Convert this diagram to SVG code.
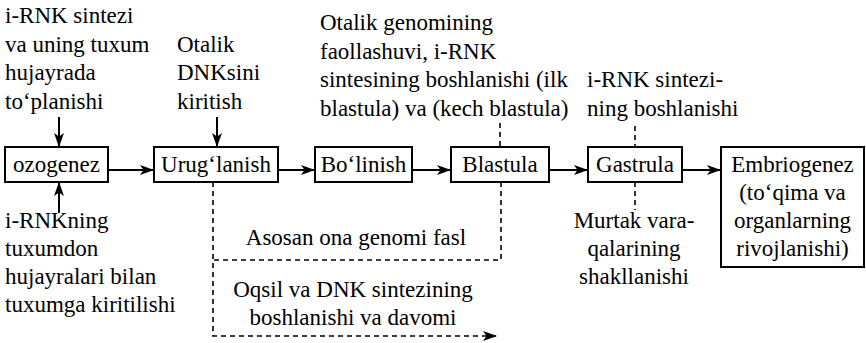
<svg xmlns="http://www.w3.org/2000/svg" width="866" height="343" viewBox="0 0 866 343">
<style>
.t{font-size:23px;fill:#000}
.c{text-anchor:middle}
.box{fill:#fff;stroke:#000;stroke-width:2}
.ln{fill:none;stroke:#000;stroke-width:2}
.ds{fill:none;stroke:#000;stroke-width:1.6;stroke-dasharray:5 4}
</style>
<defs>
<marker id="ah" viewBox="0 0 14 10" refX="14" refY="5" markerWidth="14" markerHeight="10" markerUnits="userSpaceOnUse" orient="auto">
<path d="M0,0 L14,5 L0,10 L3.5,5 z" fill="#000"/>
</marker>
</defs>
<rect width="866" height="343" fill="#fff"/>
<g id="connectors">
<line class="ln" x1="108" y1="170" x2="154" y2="170" marker-end="url(#ah)"/>
<line class="ln" x1="278" y1="170" x2="315" y2="170" marker-end="url(#ah)"/>
<line class="ln" x1="412" y1="170" x2="451" y2="170" marker-end="url(#ah)"/>
<line class="ln" x1="549" y1="170" x2="588" y2="170" marker-end="url(#ah)"/>
<line class="ln" x1="682" y1="170" x2="721" y2="170" marker-end="url(#ah)"/>
<line class="ln" x1="59" y1="117" x2="59" y2="147" marker-end="url(#ah)"/>
<line class="ln" x1="217" y1="117" x2="217" y2="147" marker-end="url(#ah)"/>
<line class="ln" x1="59" y1="213" x2="59" y2="182" marker-end="url(#ah)"/>
<line class="ds" x1="500" y1="123" x2="500" y2="147"/>
<line class="ds" x1="635" y1="126" x2="635" y2="147"/>
<line class="ds" x1="635" y1="182" x2="635" y2="210"/>
<polyline class="ds" points="501,182 501,260 213,260"/>
<polyline class="ds" points="213,182 213,336 497,336" marker-end="url(#ah)"/>
</g>
<g class="t" font-family="Liberation Serif, serif">
<g id="ozogenez"><rect class="box" x="5" y="147" width="103" height="35"/><text class="c" x="56.5" y="172">ozogenez</text></g>
<g id="uruglanish"><rect class="box" x="154" y="147" width="124" height="35"/><text class="c" x="216" y="172">Urug‘lanish</text></g>
<g id="bolinish"><rect class="box" x="315" y="147" width="97" height="35"/><text class="c" x="363.5" y="172">Bo‘linish</text></g>
<g id="blastula"><rect class="box" x="451" y="147" width="98" height="35"/><text class="c" x="500" y="172">Blastula</text></g>
<g id="gastrula"><rect class="box" x="588" y="147" width="94" height="35"/><text class="c" x="635" y="172">Gastrula</text></g>
<g id="embriogenez"><rect class="box" x="721" y="147" width="143" height="120"/>
<text class="c" x="792.5" y="172">Embriogenez</text>
<text class="c" x="792.5" y="200">(to‘qima va</text>
<text class="c" x="792.5" y="228">organlarning</text>
<text class="c" x="792.5" y="256">rivojlanishi)</text></g>
<g id="label-irnk-sintezi">
<text x="5" y="23">i-RNK sintezi</text>
<text x="5" y="51.5">va uning tuxum</text>
<text x="5" y="80">hujayrada</text>
<text x="5" y="108.5">to‘planishi</text></g>
<g id="label-otalik-dnk">
<text x="177" y="51.5">Otalik</text>
<text x="177" y="80">DNKsini</text>
<text x="177" y="108.5">kiritish</text></g>
<g id="label-otalik-genom">
<text x="320" y="30">Otalik genomining</text>
<text x="320" y="58.5">faollashuvi, i-RNK</text>
<text x="320" y="87">sintesining boshlanishi (ilk</text>
<text x="320" y="115.5">blastula) va (kech blastula)</text></g>
<g id="label-irnk-sintezi2">
<text x="587" y="87">i-RNK sintezi-</text>
<text x="587" y="115.5">ning boshlanishi</text></g>
<g id="label-irnkning">
<text x="5" y="228">i-RNKning</text>
<text x="5" y="256">tuxumdon</text>
<text x="5" y="284">hujayralari bilan</text>
<text x="5" y="312">tuxumga kiritilishi</text></g>
<g id="label-murtak">
<text class="c" x="634" y="228">Murtak vara-</text>
<text class="c" x="634" y="256">qalarining</text>
<text class="c" x="634" y="284">shakllanishi</text></g>
<g id="label-asosan"><text class="c" x="356" y="245">Asosan ona genomi fasl</text></g>
<g id="label-oqsil">
<text class="c" x="353" y="297">Oqsil va DNK sintezining</text>
<text class="c" x="353" y="325">boshlanishi va davomi</text></g>
</g>
</svg>
